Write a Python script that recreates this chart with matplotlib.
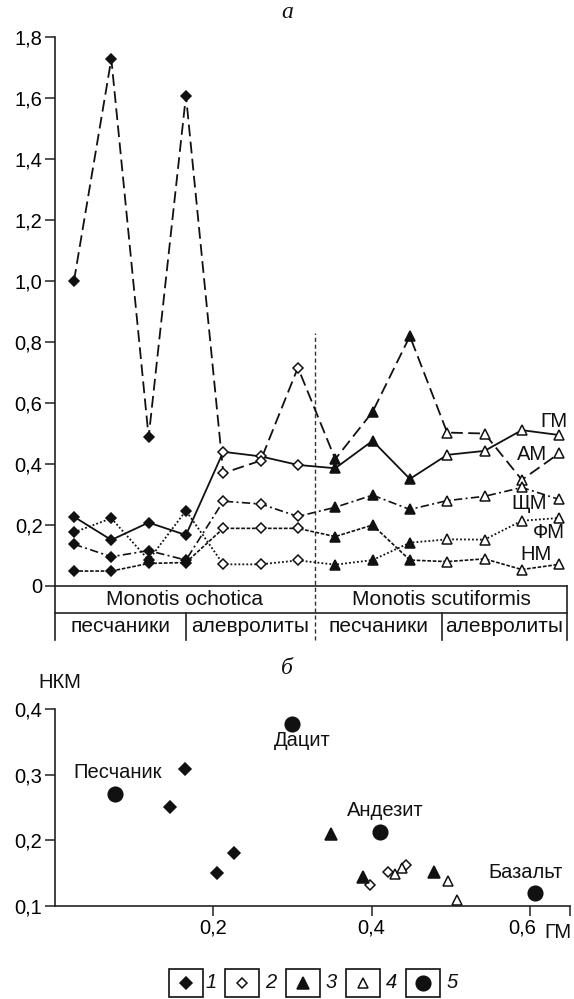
import matplotlib
matplotlib.use('Agg')
import matplotlib.pyplot as plt
from matplotlib.patches import Rectangle

plt.rcParams['font.family'] = ['Liberation Sans', 'DejaVu Sans']

# ---------------- panel a data ----------------
samples = list(range(14))
group_sizes = [4, 3, 3, 4]   # filled diamonds, open diamonds, filled triangles, open triangles
GM   = [0.226, 0.150, 0.207, 0.166, 0.439, 0.424, 0.396, 0.385, 0.475, 0.350, 0.429, 0.442, 0.510, 0.494]
AM   = [1.000, 1.727, 0.487, 1.607, 0.369, 0.410, 0.715, 0.415, 0.570, 0.818, 0.502, 0.499, 0.347, 0.434]
SCHM = [0.136, 0.095, 0.115, 0.084, 0.277, 0.268, 0.227, 0.257, 0.297, 0.250, 0.279, 0.293, 0.322, 0.283]
FM   = [0.048, 0.048, 0.073, 0.076, 0.188, 0.188, 0.188, 0.161, 0.199, 0.084, 0.079, 0.088, 0.053, 0.070]
NM   = [0.175, 0.221, 0.084, 0.246, 0.070, 0.070, 0.083, 0.069, 0.084, 0.141, 0.152, 0.151, 0.213, 0.222]
series_labels = ['ГМ', 'АМ', 'ЩМ', 'ФМ', 'НМ']
series_label_y = [0.537, 0.430, 0.271, 0.173, 0.101]
yticks_a = [0, 0.2, 0.4, 0.6, 0.8, 1.0, 1.2, 1.4, 1.6, 1.8]
ytick_labels_a = ['0', '0,2', '0,4', '0,6', '0,8', '1,0', '1,2', '1,4', '1,6', '1,8']
species = ['Monotis ochotica', 'Monotis scutiformis']
rocks = ['песчаники', 'алевролиты', 'песчаники', 'алевролиты']

# ---------------- panel b data ----------------
g1_x = [0.164, 0.145, 0.205, 0.226]
g1_y = [0.309, 0.250, 0.149, 0.181]
g2_x = [0.398, 0.421, 0.443]
g2_y = [0.131, 0.151, 0.162]
g3_x = [0.349, 0.389, 0.479]
g3_y = [0.209, 0.143, 0.152]
g4_x = [0.429, 0.438, 0.496, 0.508]
g4_y = [0.148, 0.158, 0.137, 0.108]
rock_names = ['Песчаник', 'Дацит', 'Андезит', 'Базальт']
rock_x = [0.076, 0.299, 0.410, 0.606]
rock_y = [0.271, 0.377, 0.213, 0.119]
xticks_b = [0.2, 0.4, 0.6, 0.65]
xtick_labels_b = ['0,2', '0,4', '0,6', '']
yticks_b = [0.1, 0.2, 0.3, 0.4]
ytick_labels_b = ['0,1', '0,2', '0,3', '0,4']
legend_labels = ['1', '2', '3', '4', '5']

K = '#111111'
W, H = 574, 999
fig = plt.figure(figsize=(W / 100, H / 100), dpi=100)

# ================= panel a =================
ax1 = fig.add_axes([55 / W, 413.3 / H, 512 / W, 549 / H])
x0, x1 = -0.509, 13.21
ax1.set_xlim(x0, x1)
ax1.set_ylim(0, 1.8)
for s in ['top', 'right']:
    ax1.spines[s].set_visible(False)
for s in ['left', 'bottom']:
    ax1.spines[s].set_linewidth(1.2)
    ax1.spines[s].set_color('#222222')
ax1.set_xticks([])
ax1.set_yticks(yticks_a)
ax1.set_yticklabels(ytick_labels_a)
ax1.tick_params(axis='y', direction='out', length=7, width=1.1, labelsize=14.5, pad=2, color='#222222')

line_styles = [
    dict(ls='-', lw=1.3),
    dict(ls=(0, (6.5, 3)), lw=1.3),
    dict(ls=(0, (5, 2, 1.2, 2)), lw=1.2),
    dict(ls=(0, (2.2, 1)), lw=1.2),
    dict(ls=(0, (1, 1.2)), lw=1.3),
]
marker_styles = [('D', K, 5.2), ('D', 'white', 5.2), ('^', K, 7.5), ('^', 'white', 7.5)]
all_series = [GM, AM, SCHM, FM, NM]
for vals, st in zip(all_series, line_styles):
    ax1.plot(samples, vals, color=K, zorder=2, **st)
    start = 0
    for n, (m, fc, ms) in zip(group_sizes, marker_styles):
        ax1.plot(samples[start:start + n], vals[start:start + n], ls='none', marker=m,
                 ms=ms, mfc=fc, mec=K, mew=1.1, zorder=3)
        start += n

for lab, ly, lx in zip(series_labels, series_label_y, [13.21, 12.68, 12.68, 13.15, 12.80]):
    ax1.text(lx, ly, lab, ha='right', va='center', fontsize=14.5, color=K, zorder=4)

# table under the axis
ymid, ybot = -0.091, -0.178
xdash = 6.456
xdiv = [2.995, 9.86]
tl = dict(color='#222222', lw=1.2, clip_on=False, zorder=5)
ax1.plot([x0, x1], [ymid, ymid], **tl)
ax1.plot([x0, x0], [0, ybot], **tl)
ax1.plot([x1, x1], [0, ybot], **tl)
for xd in xdiv:
    ax1.plot([xd, xd], [ymid, ybot], **tl)
ax1.plot([xdash, xdash], [ybot, 0.83], color='#333333', lw=1.0, ls=(0, (3, 2)), clip_on=False, zorder=1)

ax1.text((x0 + xdash) / 2, ymid / 2, species[0], ha='center', va='center', fontsize=15, color=K)
ax1.text((xdash + x1) / 2, ymid / 2, species[1], ha='center', va='center', fontsize=15, color=K)
edges = [x0, xdiv[0], xdash, xdiv[1], x1]
for i, r in enumerate(rocks):
    ax1.text((edges[i] + edges[i + 1]) / 2, (ymid + ybot) / 2, r, ha='center', va='center',
             fontsize=15, color=K)

fig.text(0.5, 1 - 12 / H, 'а', ha='center', va='center', fontsize=17, style='italic',
         family=['Liberation Serif', 'DejaVu Serif'], color=K)

# ================= panel b =================
ax2 = fig.add_axes([55 / W, 93.4 / H, 514.6 / W, 196.6 / H])
ax2.set_xlim(0, 0.65)
ax2.set_ylim(0.1, 0.4)
for s in ['top', 'right']:
    ax2.spines[s].set_visible(False)
for s in ['left', 'bottom']:
    ax2.spines[s].set_linewidth(1.2)
    ax2.spines[s].set_color('#222222')
ax2.set_xticks(xticks_b)
ax2.set_xticklabels(xtick_labels_b)
ax2.set_yticks(yticks_b)
ax2.set_yticklabels(ytick_labels_b)
ax2.tick_params(direction='out', length=7, width=1.1, labelsize=14.5, pad=2.5, color='#222222')
# the "0,6" label sits a little left of its tick in the original
import matplotlib.transforms as mtransforms
shift = mtransforms.ScaledTranslation(-8 / 100, 0, fig.dpi_scale_trans)
for t in ax2.get_xticklabels():
    if t.get_text() == '0,6':
        t.set_transform(t.get_transform() + shift)

sc = dict(ls='none', mec=K, mew=1.1, clip_on=False, zorder=3)
ax2.plot(g1_x, g1_y, marker='D', ms=6.2, mfc=K, **sc)
ax2.plot(g2_x, g2_y, marker='D', ms=5.6, mfc='white', **sc)
ax2.plot(g3_x, g3_y, marker='^', ms=8, mfc=K, **sc)
ax2.plot(g4_x, g4_y, marker='^', ms=7, mfc='white', **sc)
ax2.plot(rock_x, rock_y, marker='o', ms=10.5, mfc=K, **sc)

label_offsets = [(2, 21), (11, -16), (6, 21), (-9, 21)]
for name, rx, ry, off in zip(rock_names, rock_x, rock_y, label_offsets):
    ax2.annotate(name, (rx, ry), xytext=off, textcoords='offset pixels', ha='center',
                 va='center', fontsize=14.5, color=K)

fig.text(60 / W, 1 - 683 / H, 'НКМ', ha='center', va='center', fontsize=14.5, color=K)
fig.text(572 / W, 1 - 932 / H, 'ГМ', ha='right', va='center', fontsize=14.5, color=K)
fig.text(0.5, 1 - 668 / H, 'б', ha='center', va='center', fontsize=17, style='italic',
         family=['Liberation Serif', 'DejaVu Serif'], color=K)

# ================= legend =================
lg = fig.add_axes([0, 0, 1, 1], facecolor='none')
lg.set_xlim(0, W)
lg.set_ylim(H, 0)
lg.axis('off')
box_left = [169, 225, 285.5, 346, 406.3]
num_x = [211.6, 271, 331.3, 391, 452]
leg_markers = [('D', K, 6.2), ('D', 'white', 5.2), ('^', K, 8), ('^', 'white', 7), ('o', K, 10.5)]
for bl, nx, lab, (m, fc, ms) in zip(box_left, num_x, legend_labels, leg_markers):
    lg.add_patch(Rectangle((bl, 969), 34, 28, fill=False, ec=K, lw=1.2))
    lg.plot([bl + 17], [983], marker=m, ms=ms, mfc=fc, mec=K, mew=1.1, ls='none')
    lg.text(nx, 983, lab, ha='center', va='center', fontsize=14.5, style='italic', color=K)

fig.savefig('out.png', dpi=100)
